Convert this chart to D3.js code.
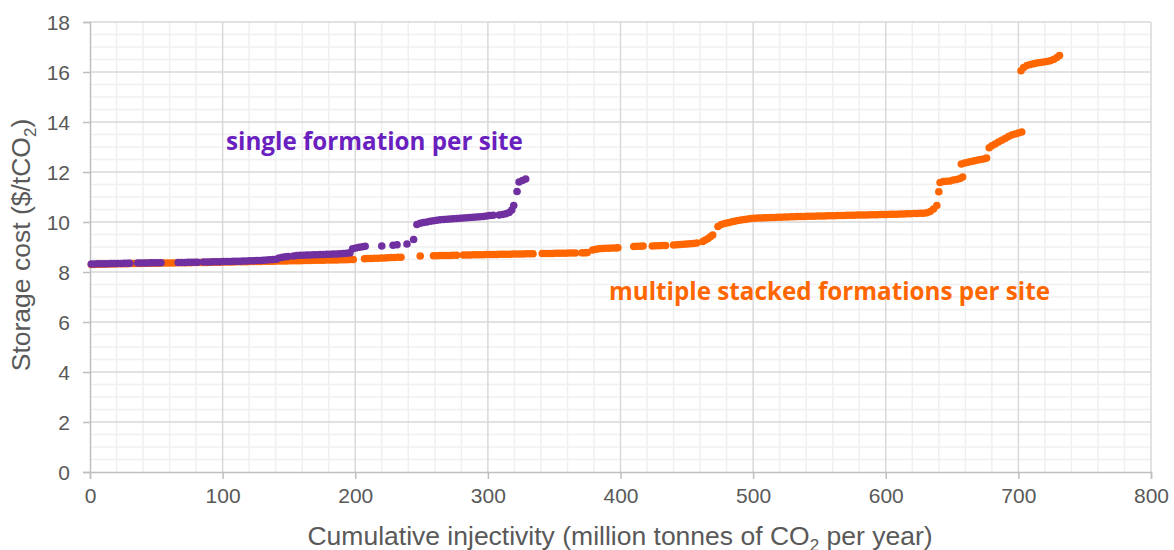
<!DOCTYPE html>
<html>
<head>
<meta charset="utf-8">
<script src="https://cdn.jsdelivr.net/npm/d3@7/dist/d3.min.js"></script>
<style>
  html, body { margin: 0; padding: 0; background: #fff; }
  svg { display: block; }
</style>
</head>
<body>
<svg id="chart" width="1174" height="550"></svg>
<script>
// ---- Data ----
const xTicks = [0, 100, 200, 300, 400, 500, 600, 700, 800];
const yTicks = [0, 2, 4, 6, 8, 10, 12, 14, 16, 18];

// multiple stacked formations per site  [cumulative injectivity, storage cost]
const orangePoints = [
  [1,8.30],[3.5,8.30],[6,8.31],[8.5,8.31],[11,8.31],[13.5,8.32],[16,8.32],[18.5,8.32],[21,8.33],[23.5,8.33],
  [26,8.33],[28.5,8.33],[31,8.34],[33.5,8.34],[36,8.34],[38.5,8.34],[41,8.35],[43.5,8.35],[46,8.35],[48.5,8.35],
  [51,8.35],[53.5,8.36],[56,8.36],[58.5,8.36],[61,8.36],[63.5,8.36],[66,8.37],[68.5,8.37],[71,8.37],[73.5,8.37],
  [76,8.37],[78.5,8.38],[81,8.38],[83.5,8.38],[86,8.38],[88.5,8.38],[91,8.39],[93.5,8.39],[96,8.39],[98.5,8.39],
  [101,8.40],[103.5,8.40],[106,8.40],[108.5,8.40],[111,8.41],[113.5,8.41],[116,8.41],[118.5,8.41],[121,8.42],[123.5,8.42],
  [126,8.42],[128.5,8.42],[131,8.43],[133.5,8.43],[136,8.43],[138.5,8.43],[141,8.44],[143.5,8.44],[146,8.44],[148.5,8.44],
  [151,8.45],[153.5,8.45],[156,8.45],[158.5,8.45],[161,8.46],[163.5,8.46],[166,8.46],[168.5,8.47],[171,8.47],[173.5,8.47],
  [176,8.47],[178.5,8.48],[181,8.48],[183.5,8.48],[186,8.48],[188.5,8.49],[191,8.49],[193.5,8.49],[196,8.50],[198.5,8.50],
  [207,8.53],[209.5,8.54],[212,8.54],[214.5,8.55],[217,8.55],[219.5,8.56],[222,8.56],[224.5,8.57],[227,8.58],[229.5,8.58],
  [232,8.59],[234.5,8.59],
  [249,8.64],
  [259,8.65],[261.5,8.65],[264,8.66],[266.5,8.66],[269,8.66],[271.5,8.66],[274,8.67],[276.5,8.67],
  [281.5,8.68],[284,8.68],[286.5,8.68],[289,8.69],[291.5,8.69],[294,8.69],[296.5,8.69],[299,8.70],[301.5,8.70],[304,8.70],
  [306.5,8.70],[309,8.71],[311.5,8.71],[314,8.71],[316.5,8.71],[319,8.72],[321.5,8.72],[324,8.72],[326.5,8.72],[329,8.73],
  [331.5,8.73],[334,8.73],
  [341,8.74],[343.5,8.74],[346,8.74],[348.5,8.74],[351,8.75],[353.5,8.75],[356,8.75],[358.5,8.75],[361,8.76],[363.5,8.76],[366,8.76],
  [371,8.77],[373.5,8.77],[375,8.78],
  [379,8.88],[381.5,8.91],[384,8.93],[386.5,8.94],[389,8.95],[391.5,8.95],[394,8.96],[396.5,8.96],[398,8.97],
  [410,9.02],[412.5,9.03],[415,9.03],[417,9.04],
  [424,9.04],[426.5,9.05],[429,9.05],[431.5,9.06],[434,9.06],
  [440,9.08],[442.5,9.09],[445,9.10],[447.5,9.11],[450,9.12],[452.5,9.13],[455,9.14],[457.5,9.16],
  [462,9.22],[464,9.28],[466,9.34],[468,9.42],[469.5,9.48],
  [473.5,9.82],[476,9.90],[478.5,9.94],[481,9.97],[483.5,10.00],[486,10.03],[488.5,10.06],[491,10.08],[493.5,10.10],[496,10.12],
  [498.5,10.14],[501,10.15],[503.5,10.16],[506,10.16],[508.5,10.17],[511,10.17],[513.5,10.18],[516,10.18],[518.5,10.19],[521,10.19],
  [523.5,10.20],[526,10.20],[528.5,10.21],[531,10.21],[533.5,10.22],[536,10.22],[538.5,10.22],[541,10.23],[543.5,10.23],[546,10.23],
  [548.5,10.24],[551,10.24],[553.5,10.24],[556,10.25],[558.5,10.25],[561,10.25],[563.5,10.26],[566,10.26],[568.5,10.26],[571,10.27],
  [573.5,10.27],[576,10.27],[578.5,10.28],[581,10.28],[583.5,10.28],[586,10.28],[588.5,10.29],[591,10.29],[593.5,10.29],[596,10.30],
  [598.5,10.30],[601,10.30],[603.5,10.31],[606,10.31],[608.5,10.31],[611,10.32],[613.5,10.32],[616,10.33],[618.5,10.33],[621,10.34],
  [623.5,10.34],[626,10.35],[628.5,10.35],[631,10.37],[633.5,10.42],[636,10.52],[638.5,10.66],
  [640,11.21],
  [641,11.58],[643.5,11.62],[646,11.63],[648.5,11.64],[651,11.68],[653.5,11.70],[656,11.74],[658,11.80],
  [657,12.32],[659.5,12.36],[662,12.39],[664.5,12.42],[667,12.45],[669.5,12.48],[672,12.50],[674.5,12.53],[676,12.56],
  [678,12.97],[680,13.05],[682.5,13.12],[685,13.20],[687.5,13.27],[690,13.34],[692.5,13.42],[695,13.48],[697.5,13.52],[700,13.56],[702.5,13.60],
  [702,16.05],[704,16.18],[706.5,16.26],[709,16.30],[711.5,16.33],[714,16.36],[716.5,16.38],[719,16.40],[721.5,16.42],[724,16.45],
  [726.5,16.50],[729,16.58],[731,16.66]
];

// single formation per site
const purplePoints = [
  [1,8.32],[3.5,8.32],[6,8.33],[8.5,8.33],[11,8.33],[13.5,8.33],[16,8.34],[18.5,8.34],[21,8.34],[23.5,8.34],[26,8.35],[28.5,8.35],[30,8.35],
  [36,8.36],[38.5,8.36],[41,8.36],[43.5,8.36],[46,8.37],[48.5,8.37],[51,8.37],[53.5,8.37],
  [66.5,8.38],[69,8.38],[71.5,8.38],[74,8.39],[76.5,8.39],[79,8.39],[81,8.39],
  [85.5,8.40],[88,8.40],[90.5,8.40],[93,8.41],[95.5,8.41],[98,8.41],[100.5,8.42],[103,8.42],[105.5,8.42],[108,8.43],
  [110.5,8.43],[113,8.43],[115.5,8.44],[118,8.44],[120.5,8.45],[123,8.45],[125.5,8.46],[128,8.46],[130.5,8.47],[133,8.48],
  [135.5,8.49],[138,8.50],[140.5,8.51],
  [142.5,8.56],[145,8.59],[147.5,8.61],[149.5,8.62],
  [153.5,8.64],[156,8.66],[158.5,8.67],[161,8.67],[163.5,8.68],[166,8.68],[168.5,8.69],[171,8.69],[173.5,8.70],[176,8.70],
  [178.5,8.71],[181,8.71],[183.5,8.72],[186,8.72],[188.5,8.73],[191,8.74],[193.5,8.75],[196,8.77],
  [198,8.93],[200.5,8.96],[203,8.99],[205.5,9.01],[207.5,9.03],
  [220,9.04],[228.5,9.07],[231.5,9.09],[239,9.12],[244,9.30],
  [246.5,9.90],[249,9.95],[251.5,9.98],[254,10.00],[256.5,10.03],[259,10.05],[261.5,10.07],[264,10.09],[266.5,10.10],[269,10.11],
  [271.5,10.12],[274,10.13],[276.5,10.14],[279,10.15],[281.5,10.16],[284,10.17],[286.5,10.18],[289,10.19],[291.5,10.20],[294,10.21],
  [296.5,10.22],[299,10.24],[301.5,10.26],[304,10.27],
  [308.5,10.28],[311,10.30],[313.5,10.33],[316,10.38],[318,10.48],[319.5,10.66],
  [322,11.22],[323.5,11.60],[326,11.66],[328.5,11.72]
];

const seriesLabels = ["single formation per site", "multiple stacked formations per site"];
const xTitle = ["Cumulative injectivity (million tonnes of CO", "2", " per year)"];
const yTitle = ["Storage cost ($/tCO", "2", ")"];

// ---- Layout ----
const svg = d3.select("#chart");
const x = d3.scaleLinear().domain([0, 800]).range([90, 1151]);
const y = d3.scaleLinear().domain([0, 18]).range([472, 22]);

const tickFont = "'Liberation Sans', Arial, sans-serif";
const textColor = "#595959";

// minor grid
const minorX = d3.range(0, 801, 20).filter(v => v % 100 !== 0);
const minorY = d3.range(0, 18.01, 0.5).filter(v => v % 2 !== 0);
const grid = svg.append("g");
grid.selectAll(".mx").data(minorX).join("line")
  .attr("x1", d => x(d)).attr("x2", d => x(d)).attr("y1", y(0)).attr("y2", y(18))
  .attr("stroke", "#f0f0f0").attr("stroke-width", 1.5);
grid.selectAll(".my").data(minorY).join("line")
  .attr("x1", x(0)).attr("x2", x(800)).attr("y1", d => y(d)).attr("y2", d => y(d))
  .attr("stroke", "#f0f0f0").attr("stroke-width", 1.5);
// major grid
grid.selectAll(".Mx").data(xTicks.slice(1)).join("line")
  .attr("x1", d => x(d)).attr("x2", d => x(d)).attr("y1", y(0)).attr("y2", y(18))
  .attr("stroke", "#d9d9d9").attr("stroke-width", 1.5);
grid.selectAll(".My").data(yTicks.slice(1)).join("line")
  .attr("x1", x(0)).attr("x2", x(800)).attr("y1", d => y(d)).attr("y2", d => y(d))
  .attr("stroke", "#d9d9d9").attr("stroke-width", 1.5);

// axes
const xAxis = svg.append("g").attr("transform", `translate(0,${y(0)})`)
  .call(d3.axisBottom(x).tickValues(xTicks).tickSize(7).tickPadding(9).tickFormat(d3.format("d")));
const yAxis = svg.append("g").attr("transform", `translate(${x(0)},0)`)
  .call(d3.axisLeft(y).tickValues(yTicks).tickSize(7).tickPadding(13).tickFormat(d3.format("d")));
[xAxis, yAxis].forEach(a => {
  a.select(".domain").attr("stroke", "#bfbfbf").attr("stroke-width", 1.5);
  a.selectAll(".tick line").attr("stroke", "#bfbfbf").attr("stroke-width", 1.5);
  a.selectAll(".tick text").attr("fill", textColor).style("font-family", tickFont).style("font-size", "21px");
});
yAxis.selectAll(".tick text").attr("dy", "0.35em");

// points
svg.append("g").selectAll("circle").data(orangePoints).join("circle")
  .attr("cx", d => x(d[0])).attr("cy", d => y(d[1])).attr("r", 3.8).attr("fill", "#FF6600");
svg.append("g").selectAll("circle").data(purplePoints).join("circle")
  .attr("cx", d => x(d[0])).attr("cy", d => y(d[1])).attr("r", 3.8).attr("fill", "#7030A0");

// axis titles
const xt = svg.append("text").attr("x", 620).attr("y", 545).attr("text-anchor", "middle")
  .attr("fill", textColor).style("font-family", tickFont).style("font-size", "26.5px");
xt.append("tspan").text(xTitle[0]);
xt.append("tspan").text(xTitle[1]).attr("dy", 6).style("font-size", "17px");
xt.append("tspan").text(xTitle[2]).attr("dy", -6);

const yt = svg.append("text").attr("transform", "translate(30,245) rotate(-90)").attr("text-anchor", "middle")
  .attr("fill", textColor).style("font-family", tickFont).style("font-size", "26.5px");
yt.append("tspan").text(yTitle[0]);
yt.append("tspan").text(yTitle[1]).attr("dy", 6).style("font-size", "17px");
yt.append("tspan").text(yTitle[2]).attr("dy", -6);

// series annotations (font size fitted to the reference text width)
function fitLabel(sel, targetWidth) {
  const w = sel.node().getComputedTextLength();
  const fs = parseFloat(sel.style("font-size"));
  sel.style("font-size", (fs * targetWidth / w).toFixed(2) + "px");
}
const lab1 = svg.append("text").attr("x", 226).attr("y", 150).text(seriesLabels[0])
  .attr("fill", "#6a1fbf").style("font-family", "'Open Sans', Lato, sans-serif").style("font-weight", "bold").style("font-size", "20px");
fitLabel(lab1, 297);
const lab2 = svg.append("text").attr("x", 609).attr("y", 300).text(seriesLabels[1])
  .attr("fill", "#FF6600").style("font-family", "'Open Sans', Lato, sans-serif").style("font-weight", "bold").style("font-size", "20px");
fitLabel(lab2, 441);
</script>
</body>
</html>
